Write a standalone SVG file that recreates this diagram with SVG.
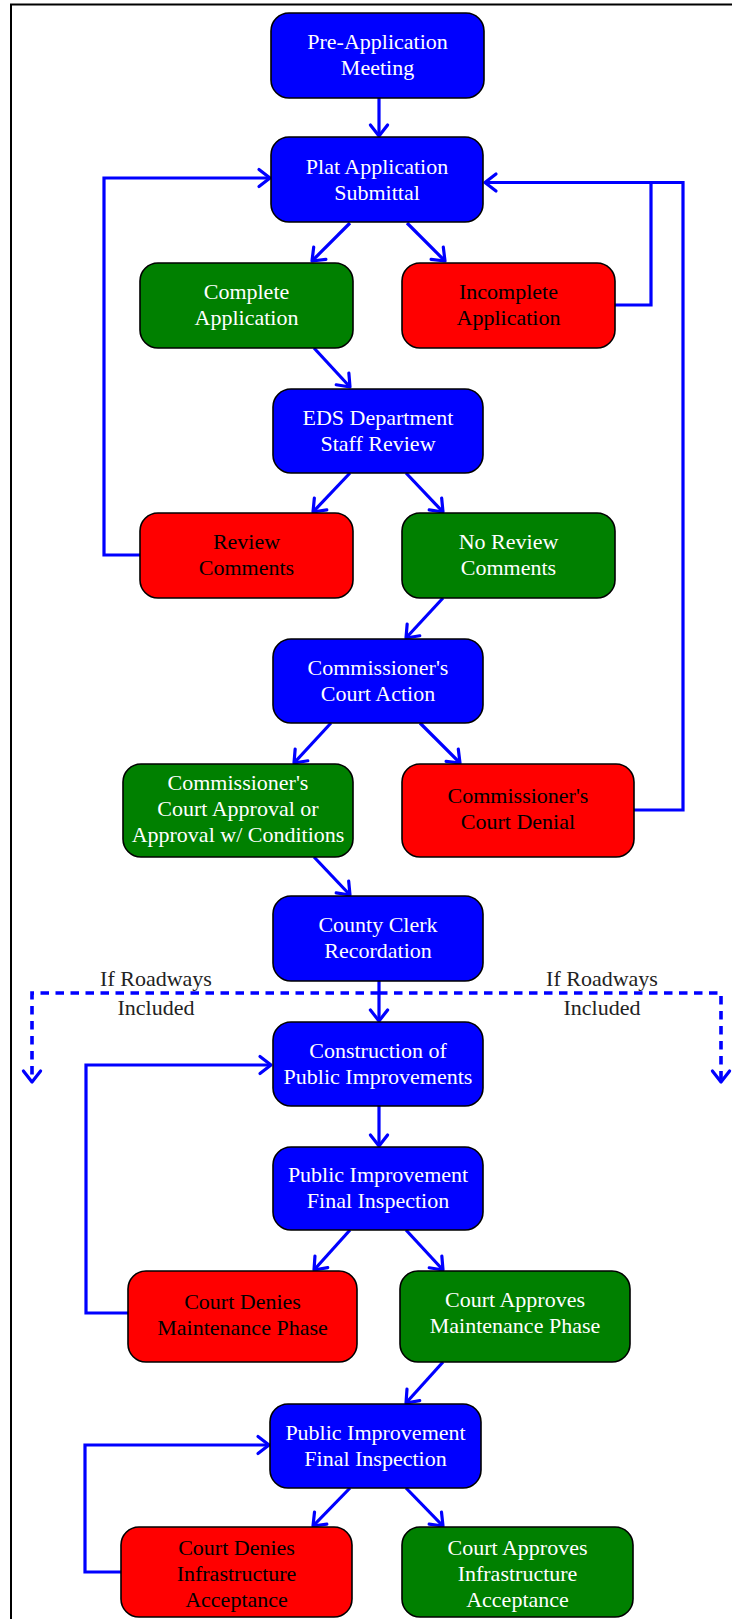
<svg xmlns="http://www.w3.org/2000/svg" width="732" height="1619" viewBox="0 0 732 1619">
<style>
.box{stroke:#000;stroke-width:1.6}
.b{fill:#0000ff}.g{fill:#008000}.r{fill:#ff0000}
text{font-family:"Liberation Serif","Times New Roman",serif;font-size:22px;text-anchor:middle}
.tw{fill:#ffffff}.tk{fill:#000000}.tl{fill:#222222}
.c{fill:none;stroke:#0000ff;stroke-width:3.2}
.d{fill:none;stroke:#0000ff;stroke-width:3.6;stroke-dasharray:8.5 6.5}
</style>
<defs>
<marker id="ah" markerUnits="userSpaceOnUse" viewBox="-16 -12 20 24" refX="0" refY="0" markerWidth="20" markerHeight="24" orient="auto">
<path d="M -11 -8.6 L 0 0 L -11 8.6" fill="none" stroke="#0000ff" stroke-width="3.2" stroke-linecap="round" stroke-linejoin="round"/>
</marker>
</defs>
<rect width="732" height="1619" fill="#ffffff"/>
<path d="M11,1619 L11,4.5 L732,4.5" fill="none" stroke="#000" stroke-width="2"/>
<g id="connectors">
<path class="c" d="M379,98 L379,136" marker-end="url(#ah)"/>
<path class="c" d="M350,223 L312,261" marker-end="url(#ah)"/>
<path class="c" d="M407,223 L445,261" marker-end="url(#ah)"/>
<path class="c" d="M615,305 L651,305 L651,182.5"/>
<path class="c" d="M634,810 L683,810 L683,182.5 L485,182.5" marker-end="url(#ah)"/>
<path class="c" d="M140,555 L104,555 L104,178 L270,178" marker-end="url(#ah)"/>
<path class="c" d="M314,348 L350,387" marker-end="url(#ah)"/>
<path class="c" d="M350,473 L313,512" marker-end="url(#ah)"/>
<path class="c" d="M406,473 L443,512" marker-end="url(#ah)"/>
<path class="c" d="M443,598 L406,638" marker-end="url(#ah)"/>
<path class="c" d="M331,723 L294,763" marker-end="url(#ah)"/>
<path class="c" d="M420,723 L460,763" marker-end="url(#ah)"/>
<path class="c" d="M314,857 L350,895" marker-end="url(#ah)"/>
<path class="c" d="M379,981 L379,1021" marker-end="url(#ah)"/>
<path class="d" d="M379,993 L32,993 L32,1082" marker-end="url(#ah)"/>
<path class="d" d="M379,993 L721,993 L721,1082" marker-end="url(#ah)"/>
<path class="c" d="M379,1106 L379,1146" marker-end="url(#ah)"/>
<path class="c" d="M350,1230 L314,1270" marker-end="url(#ah)"/>
<path class="c" d="M406,1230 L443,1270" marker-end="url(#ah)"/>
<path class="c" d="M128,1313 L86,1313 L86,1065 L271,1065" marker-end="url(#ah)"/>
<path class="c" d="M443,1362 L406,1403" marker-end="url(#ah)"/>
<path class="c" d="M350,1488 L313,1526" marker-end="url(#ah)"/>
<path class="c" d="M406,1488 L443,1526" marker-end="url(#ah)"/>
<path class="c" d="M121,1572 L85,1572 L85,1445 L269,1445" marker-end="url(#ah)"/>
</g>
<g id="label-roadways-left"><text class="tl" x="156" y="986">If Roadways</text><text class="tl" x="156" y="1015">Included</text></g>
<g id="label-roadways-right"><text class="tl" x="602" y="986">If Roadways</text><text class="tl" x="602" y="1015">Included</text></g>
<g id="pre"><rect class="box b" x="271" y="13" width="213" height="85" rx="18"/><text class="tw" x="377.5" y="49">Pre-Application</text><text class="tw" x="377.5" y="75">Meeting</text></g>
<g id="plat"><rect class="box b" x="271" y="137" width="212" height="85" rx="18"/><text class="tw" x="377" y="174">Plat Application</text><text class="tw" x="377" y="200">Submittal</text></g>
<g id="complete"><rect class="box g" x="140" y="263" width="213" height="85" rx="18"/><text class="tw" x="246.5" y="299">Complete</text><text class="tw" x="246.5" y="325">Application</text></g>
<g id="incomplete"><rect class="box r" x="402" y="263" width="213" height="85" rx="18"/><text class="tk" x="508.5" y="299">Incomplete</text><text class="tk" x="508.5" y="325">Application</text></g>
<g id="eds"><rect class="box b" x="273" y="389" width="210" height="84" rx="18"/><text class="tw" x="378" y="425">EDS Department</text><text class="tw" x="378" y="451">Staff Review</text></g>
<g id="review"><rect class="box r" x="140" y="513" width="213" height="85" rx="18"/><text class="tk" x="246.5" y="549">Review</text><text class="tk" x="246.5" y="575">Comments</text></g>
<g id="noreview"><rect class="box g" x="402" y="513" width="213" height="85" rx="18"/><text class="tw" x="508.5" y="549">No Review</text><text class="tw" x="508.5" y="575">Comments</text></g>
<g id="cca"><rect class="box b" x="273" y="639" width="210" height="84" rx="18"/><text class="tw" x="378" y="675">Commissioner's</text><text class="tw" x="378" y="701">Court Action</text></g>
<g id="approval"><rect class="box g" x="123" y="764" width="230" height="93" rx="18"/><text class="tw" x="238" y="790">Commissioner's</text><text class="tw" x="238" y="816">Court Approval or</text><text class="tw" x="238" y="842">Approval w/ Conditions</text></g>
<g id="denial"><rect class="box r" x="402" y="764" width="232" height="93" rx="18"/><text class="tk" x="518" y="803">Commissioner's</text><text class="tk" x="518" y="829">Court Denial</text></g>
<g id="clerk"><rect class="box b" x="273" y="896" width="210" height="85" rx="18"/><text class="tw" x="378" y="932">County Clerk</text><text class="tw" x="378" y="958">Recordation</text></g>
<g id="construction"><rect class="box b" x="273" y="1022" width="210" height="84" rx="18"/><text class="tw" x="378" y="1058">Construction of</text><text class="tw" x="378" y="1084">Public Improvements</text></g>
<g id="inspect1"><rect class="box b" x="273" y="1147" width="210" height="83" rx="18"/><text class="tw" x="378" y="1182">Public Improvement</text><text class="tw" x="378" y="1208">Final Inspection</text></g>
<g id="deniesMaint"><rect class="box r" x="128" y="1271" width="229" height="91" rx="18"/><text class="tk" x="242.5" y="1309">Court Denies</text><text class="tk" x="242.5" y="1335">Maintenance Phase</text></g>
<g id="approvesMaint"><rect class="box g" x="400" y="1271" width="230" height="91" rx="18"/><text class="tw" x="515" y="1307">Court Approves</text><text class="tw" x="515" y="1333">Maintenance Phase</text></g>
<g id="inspect2"><rect class="box b" x="270" y="1404" width="211" height="84" rx="18"/><text class="tw" x="375.5" y="1440">Public Improvement</text><text class="tw" x="375.5" y="1466">Final Inspection</text></g>
<g id="deniesInfra"><rect class="box r" x="121" y="1527" width="231" height="90" rx="18"/><text class="tk" x="236.5" y="1555">Court Denies</text><text class="tk" x="236.5" y="1581">Infrastructure</text><text class="tk" x="236.5" y="1607">Acceptance</text></g>
<g id="approvesInfra"><rect class="box g" x="402" y="1527" width="231" height="90" rx="18"/><text class="tw" x="517.5" y="1555">Court Approves</text><text class="tw" x="517.5" y="1581">Infrastructure</text><text class="tw" x="517.5" y="1607">Acceptance</text></g>
</svg>
